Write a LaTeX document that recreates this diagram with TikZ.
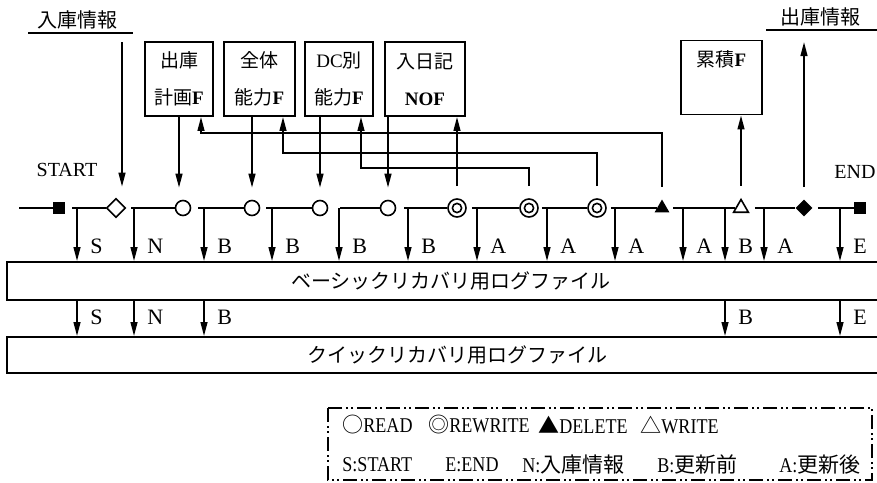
\documentclass[tikz,border=0pt]{standalone}
\usepackage{fontspec}
\setmainfont{Liberation Serif}
\newfontfamily\jp{Noto Sans CJK JP}
\newfontfamily\narrow{Liberation Serif}[FakeStretch=0.86]
\usetikzlibrary{arrows.meta, shapes.geometric}

\begin{document}
\begin{tikzpicture}[
    x=0.5pt, y=-0.5pt,
    font=\fontsize{10}{11}\selectfont,
    file/.style={
        draw,
        rectangle,
        line width=0.9pt,
        minimum width=34pt,
        minimum height=37pt,
        inner sep=1pt,
        align=center,
        font=\fontsize{9.5}{18.5}\selectfont
    },
    logfile/.style={
        draw,
        rectangle,
        line width=0.9pt,
        minimum width=444pt,
        minimum height=19pt
    },
    arrow/.style={
        -{Triangle[length=7pt,width=3.4pt]},
        line width=0.9pt
    },
    mainline/.style={line width=0.9pt},
    stopbox/.style={rectangle, fill, minimum size=6pt, inner sep=0pt},
    read/.style={circle, draw, line width=0.8pt, minimum size=7.5pt, inner sep=0pt},
    rewrite/.style={read, minimum size=9pt,
        path picture={\draw[line width=0.8pt] (path picture bounding box.center) circle (2.3pt);}},
    delop/.style={regular polygon, regular polygon sides=3, fill, minimum size=8.5pt, inner sep=0pt},
    wrop/.style={regular polygon, regular polygon sides=3, draw, line width=0.8pt, minimum size=8.5pt, inner sep=0pt},
    inop/.style={diamond, draw, line width=0.8pt, minimum size=9.5pt, inner sep=0pt},
    outop/.style={diamond, fill, minimum size=8.5pt, inner sep=0pt},
    tag/.style={anchor=west, inner sep=0pt, xshift=6.5pt, font=\fontsize{11}{12}\selectfont},
    key/.style={anchor=west, inner sep=0pt, font=\fontsize{10.5}{12}\narrow},
    legend/.style={line width=0.8pt, dash pattern=on 7pt off 2pt on 1pt off 1.5pt on 1pt off 2pt}
]
\useasboundingbox (0,0) rectangle (877,482);
\clip (0,0) rectangle (877,482);

% Files
\node[file] (plan) at (179,79) {{\jp 出庫}\\{\jp 計画}\textbf{F}};
\node[file, minimum width=35.5pt] (whole) at (259.5,79) {{\jp 全体}\\{\jp 能力}\textbf{F}};
\node[file] (dc) at (339,79) {DC{\jp 別}\\{\jp 能力}\textbf{F}};
\node[file, minimum width=40pt] (nof) at (425,79) {{\jp 入日記}\\\textbf{NOF}};
\node[file, minimum width=40.5pt] (acc) at (721.5,77.5) {{\jp 累積}\textbf{F}\\\mbox{}};

% In / out
\node (inlabel) at (77,20) {{\jp 入庫情報}};
\draw[mainline] (28,33) -- (133,33);
\node (outlabel) at (820,17) {{\jp 出庫情報}};
\draw[mainline] (766,30) -- (877,30);
\node (startlabel) at (67,170) {START};
\node[anchor=west, inner sep=0pt] (endlabel) at (834,172) {END};

% Main line
\coordinate (in) at (19,208);
\node[stopbox] (start) at (59,208) {};
\node[inop] (inop) at (116,208) {};
\node[read] (r1) at (183,208) {};
\node[read] (r2) at (252,208) {};
\node[read] (r3) at (320,208) {};
\node[read] (r4) at (388,208) {};
\node[rewrite] (rw1) at (457,208) {};
\node[rewrite] (rw2) at (529,208) {};
\node[rewrite] (rw3) at (597,208) {};
\node[delop] (del) at (662,208) {};
\node[wrop] (wr) at (741,208) {};
\node[outop] (outop) at (804,208) {};
\node[stopbox] (end) at (860,208) {};

\draw[mainline] (in) -- (start);
\foreach \a/\b/\g in {start/inop/3.5pt, inop/r1/2.5pt, r1/r2/3.5pt, r2/r3/3pt, r3/r4/6pt,
    r4/rw1/4pt, rw1/rw2/2.5pt, rw2/rw3/1.5pt, rw3/del/2pt, del/wr/3pt, wr/outop/4pt, outop/end/2.5pt}
    \draw[mainline, shorten <=\g] (\a) -- (\b);

% Log files
\node[logfile] (basic) at (451,281) {{\jp ベーシックリカバリ用ログファイル}};
\node[logfile, minimum width=450pt, minimum height=18pt] (quick) at (457,355) {{\jp クイックリカバリ用ログファイル}};

% Reads and writes
\draw[arrow, shorten >=5.5pt] (122,42) coordinate (intop) -- (intop |- inop.north);
\draw[arrow, shorten >=6pt] (plan.south) -- (plan.south |- r1.north);
\draw[arrow, shorten >=6pt] (r2.north |- whole.south) -- (r2.north);
\draw[arrow, shorten >=6pt] (r3.north |- dc.south) -- (r3.north);
\draw[arrow, shorten >=6pt] (r4.north |- nof.south) -- (r4.north);
\draw[arrow, shorten <=6pt] (rw1.north) -- (rw1.north |- nof.south);
\draw[arrow, shorten <=6pt] (wr.north) -- (wr.north |- acc.south);
\coordinate (outtop) at (outop.north |- 0,42);
\draw[arrow, shorten <=6pt] (outop.north) -- (outtop);

% Feedback
\coordinate (fb1) at (201,133);
\coordinate (fb2) at (283,153);
\coordinate (fb3) at (361,168);
\draw[arrow, shorten <=6pt] (del.north) |- (fb1) -- (fb1 |- plan.south);
\draw[arrow, shorten <=6pt] (rw3.north) |- (fb2) -- (fb2 |- whole.south);
\draw[arrow, shorten <=6pt] (rw2.north) |- (fb3) -- (fb3 |- dc.south);

% Log records
\foreach \x/\l [count=\i] in {77/S, 134/N, 204/B, 272/B, 339/B, 408/B, 477/A, 547/A, 615/A, 683/A, 725/B, 764/A, 840/E} {
    \coordinate (br\i) at (\x,208);
    \draw[arrow] (br\i) -- (br\i |- basic.north);
    \node[tag] (tb\i) at (br\i |- 0,246) {\l};
}
\foreach \i/\l in {1/S, 2/N, 3/B, 11/B, 13/E} {
    \draw[arrow] (br\i |- basic.south) -- (br\i |- quick.north);
    \node[tag] (tq\i) at (br\i |- 0,317) {\l};
}

% Legend
\draw[legend] (328,408) rectangle (872,480);
\foreach \x/\t [count=\i] in {342/{{\jp ○}READ}, 428/{{\jp ◎}REWRITE}, 538/{{\jp ▲}DELETE}, 640/{{\jp △}WRITE}}
    \node[key] (ka\i) at (\x,425) {\t};
\foreach \x/\t [count=\i] in {342/{S:START}, 445/{E:END}, 522/{N:{\jp 入庫情報}}, 657/{B:{\jp 更新前}}, 779/{A:{\jp 更新後}}}
    \node[key] (kb\i) at (\x,465) {\t};

\end{tikzpicture}
\end{document}
